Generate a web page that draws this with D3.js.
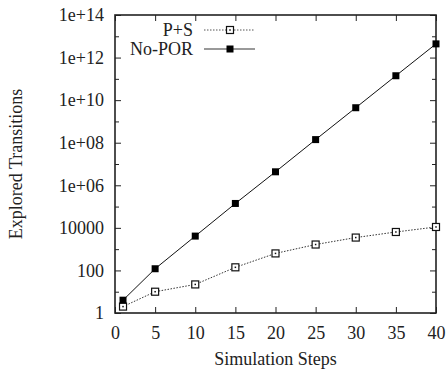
<!DOCTYPE html>
<html>
<head>
<meta charset="utf-8">
<script src="https://cdn.jsdelivr.net/npm/d3@7"></script>
<style>
  body { margin: 0; background: #fff; }
</style>
</head>
<body>
<svg width="448" height="370"></svg>
<script>
var svg = d3.select('svg');
var width = +svg.attr('width');
var height = +svg.attr('height');

var padding = {t: 15, r: 12, b: 57, l: 115};
var chartWidth = width - padding.l - padding.r;
var chartHeight = height - padding.t - padding.b;

// data
var steps = [1, 5, 10, 15, 20, 25, 30, 35, 40];
var psValues = [2, 10, 22, 140, 630, 1650, 3500, 6400, 11000];
var noPorValues = [4, 120, 4100, 1.4e5, 4.3e6, 1.4e8, 4.4e9, 1.4e11, 4.4e12];

var xTicks = [0, 5, 10, 15, 20, 25, 30, 35, 40];
var yTicks = [1, 1e2, 1e4, 1e6, 1e8, 1e10, 1e12, 1e14];
var yTickLabels = ['1', '100', '10000', '1e+06', '1e+08', '1e+10', '1e+12', '1e+14'];
var yMinorTicks = [1e1, 1e3, 1e5, 1e7, 1e9, 1e11, 1e13];

var seriesNames = ['P+S', 'No-POR'];

var fontFamily = "'Liberation Serif', 'Times New Roman', Times, 'DejaVu Serif', serif";
var fontSize = 18;
var tickLen = 6;

var xScale = d3.scaleLinear().domain([0, 40]).range([0, chartWidth]);
var yScale = d3.scaleLog().domain([1, 1e14]).range([chartHeight, 0]);

var chartG = svg.append('g').attr('transform', 'translate(' + [padding.l, padding.t] + ')');

// bottom axis
chartG.append('g')
  .attr('transform', 'translate(0,' + chartHeight + ')')
  .call(d3.axisBottom(xScale).tickValues(xTicks).tickSizeInner(-tickLen).tickSizeOuter(0).tickPadding(13));
// top mirror ticks
chartG.append('g')
  .call(d3.axisTop(xScale).tickValues(xTicks).tickSizeInner(-tickLen).tickSizeOuter(0).tickFormat(''));

// left axis
chartG.append('g')
  .call(d3.axisLeft(yScale).tickValues(yTicks).tickSizeInner(-tickLen).tickSizeOuter(0).tickPadding(11)
    .tickFormat(function(d, i) { return yTickLabels[i]; }));
chartG.append('g')
  .call(d3.axisLeft(yScale).tickValues(yMinorTicks).tickSizeInner(-4).tickSizeOuter(0).tickFormat(''));
// right mirror ticks
chartG.append('g')
  .attr('transform', 'translate(' + chartWidth + ',0)')
  .call(d3.axisRight(yScale).tickValues(yTicks).tickSizeInner(-tickLen).tickSizeOuter(0).tickFormat(''));
chartG.append('g')
  .attr('transform', 'translate(' + chartWidth + ',0)')
  .call(d3.axisRight(yScale).tickValues(yMinorTicks).tickSizeInner(-4).tickSizeOuter(0).tickFormat(''));

chartG.selectAll('.domain').remove();
chartG.selectAll('.tick line').attr('stroke', '#222').attr('stroke-width', 1);
chartG.selectAll('g').attr('font-family', fontFamily).attr('font-size', fontSize);
chartG.selectAll('.tick text').attr('fill', '#222');

// frame
chartG.append('rect')
  .attr('x', 0).attr('y', 0)
  .attr('width', chartWidth).attr('height', chartHeight)
  .attr('fill', 'none').attr('stroke', '#222').attr('stroke-width', 1.6);

var line = d3.line()
  .x(function(d) { return xScale(d[0]); })
  .y(function(d) { return yScale(d[1]); });

var psData = steps.map(function(s, i) { return [s, psValues[i]]; });
var noPorData = steps.map(function(s, i) { return [s, noPorValues[i]]; });

chartG.append('path')
  .datum(psData)
  .attr('d', line)
  .attr('fill', 'none')
  .attr('stroke', '#333')
  .attr('stroke-width', 1)
  .attr('stroke-dasharray', '1.5,1.5');

chartG.append('path')
  .datum(noPorData)
  .attr('d', line)
  .attr('fill', 'none')
  .attr('stroke', '#111')
  .attr('stroke-width', 1);

var boxSize = 7;

function drawOpenBox(g, x, y) {
  g.append('rect')
    .attr('x', x - boxSize / 2).attr('y', y - boxSize / 2)
    .attr('width', boxSize).attr('height', boxSize)
    .attr('fill', '#fff').attr('stroke', '#111').attr('stroke-width', 1.2);
  g.append('rect')
    .attr('x', x - 0.75).attr('y', y - 0.75)
    .attr('width', 1.5).attr('height', 1.5)
    .attr('fill', '#111');
}

function drawFilledBox(g, x, y) {
  g.append('rect')
    .attr('x', x - boxSize / 2).attr('y', y - boxSize / 2)
    .attr('width', boxSize).attr('height', boxSize)
    .attr('fill', '#000');
}

psData.forEach(function(d) {
  drawOpenBox(chartG, xScale(d[0]), yScale(d[1]));
});
noPorData.forEach(function(d) {
  drawFilledBox(chartG, xScale(d[0]), yScale(d[1]));
});

// legend
var legendG = svg.append('g');
var legendY = [30, 49];
var lx1 = 204, lx2 = 255, lmid = 230;

legendG.append('line')
  .attr('x1', lx1).attr('x2', lx2).attr('y1', legendY[0]).attr('y2', legendY[0])
  .attr('stroke', '#555').attr('stroke-width', 1).attr('stroke-dasharray', '1.5,1.5');
drawOpenBox(legendG, lmid, legendY[0]);

legendG.append('line')
  .attr('x1', lx1).attr('x2', lx2).attr('y1', legendY[1]).attr('y2', legendY[1])
  .attr('stroke', '#777').attr('stroke-width', 1.6);
drawFilledBox(legendG, lmid, legendY[1]);

legendG.selectAll('.legtext')
  .data(seriesNames)
  .enter().append('text')
  .attr('class', 'legtext')
  .attr('x', 193)
  .attr('y', function(d, i) { return legendY[i]; })
  .attr('dy', '0.35em')
  .attr('text-anchor', 'end')
  .attr('font-family', fontFamily)
  .attr('font-size', fontSize)
  .attr('fill', '#222')
  .text(function(d) { return d; });

// axis titles
svg.append('text')
  .attr('x', padding.l + chartWidth / 2)
  .attr('y', 365)
  .attr('text-anchor', 'middle')
  .attr('font-family', fontFamily)
  .attr('font-size', fontSize)
  .attr('fill', '#222')
  .text('Simulation Steps');

svg.append('text')
  .attr('transform', 'translate(22,' + (padding.t + chartHeight / 2) + ') rotate(-90)')
  .attr('text-anchor', 'middle')
  .attr('font-family', fontFamily)
  .attr('font-size', fontSize)
  .attr('fill', '#222')
  .text('Explored Transitions');
</script>
</body>
</html>
